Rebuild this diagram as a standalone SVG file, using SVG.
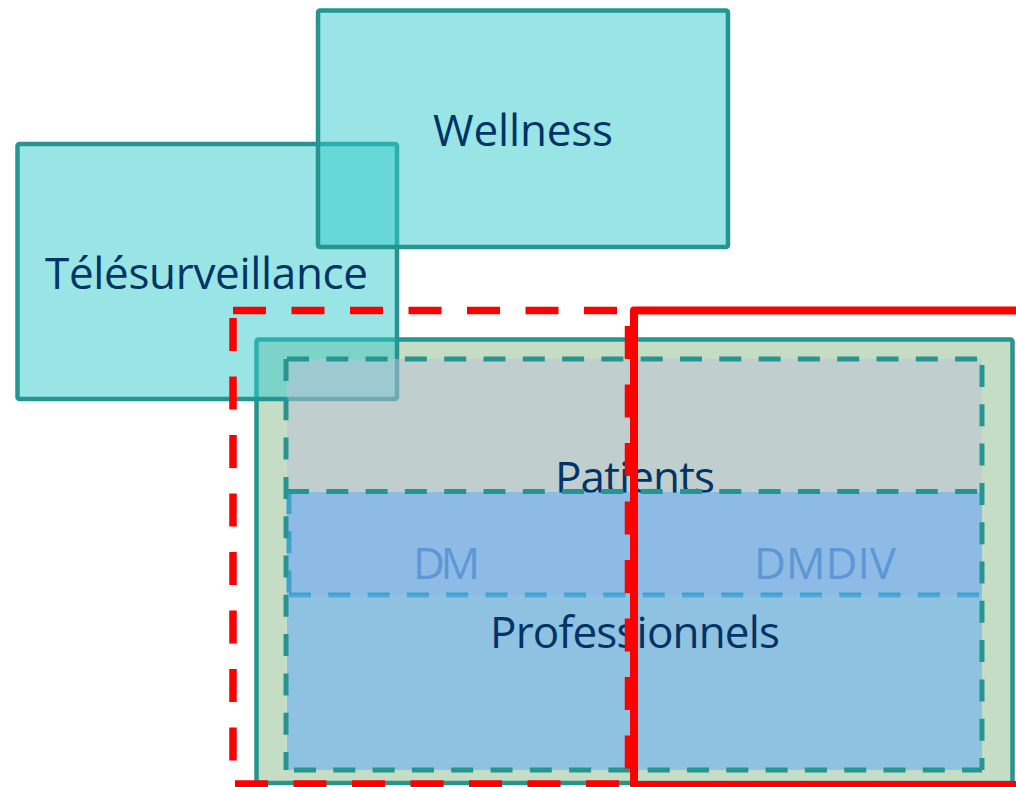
<svg xmlns="http://www.w3.org/2000/svg" width="1016" height="787" viewBox="0 0 1016 787">
<style>
.lbl{font-family:"Open Sans","Noto Sans","Liberation Sans",sans-serif;font-size:44px;text-anchor:middle;fill:#003366}
.dim{fill:#5E97D6}
.box{stroke:#249590;stroke-width:4.5;stroke-linejoin:round}
.cyan{fill:#33CCCC;fill-opacity:0.5}
.tdash{fill:none;stroke:#249590;stroke-width:5;stroke-dasharray:22 17.3}
.bdash{fill:none;stroke:#41A1CB;stroke-width:5;stroke-dasharray:22 17.3}
.rdash{fill:none;stroke:#FF0000;stroke-width:7.5;stroke-dasharray:33 25.5}
.rsolid{fill:none;stroke:#FF0000;stroke-width:8;stroke-linejoin:round}
</style>
<rect width="1016" height="787" fill="#FFFFFF"/>
<g id="container">
<rect class="box" x="256.5" y="339.5" width="756" height="443.5" rx="2" fill="#C4DDC4"/>
</g>
<g id="telesurveillance">
<rect class="box cyan" x="17.5" y="144" width="379.5" height="255" rx="2"/>
<text class="lbl" x="206.5" y="289" textLength="323">Télésurveillance</text>
</g>
<g id="wellness">
<rect class="box cyan" x="318" y="10.5" width="410" height="236.5" rx="2"/>
<text class="lbl" x="523" y="146" textLength="180">Wellness</text>
</g>
<g id="patients">
<rect x="287" y="359" width="695" height="411" fill="#BEBFD8" fill-opacity="0.5"/>
<text class="lbl" x="635" y="493" textLength="160">Patients</text>
</g>
<g id="dm">
<rect x="287" y="492" width="695" height="103" fill="#59A8FC" fill-opacity="0.5"/>
<path class="bdash" d="M289,595 H980 M289,492 V595"/>
<text class="lbl dim" x="446.5" y="578.5" textLength="67">DM</text>
<text class="lbl dim" x="825" y="579" textLength="142">DMDIV</text>
</g>
<g id="professionnels">
<rect x="287" y="595" width="695" height="175" fill="#5DB4F2" fill-opacity="0.5"/>
<text class="lbl" x="635" y="648" textLength="290">Professionnels</text>
</g>
<g id="borders">
<path class="tdash" d="M287,359 H982 M982,365 V770 M294,770 H982 M286,359 V770 M287,491.5 H982"/>
</g>
<g id="connectors">
<path class="rdash" d="M233,310.5 H628 M628.5,326 V784 M235,784 H628 M233,318 V784"/>
<path class="rsolid" d="M1024,310.5 H634 V785 H1024"/>
</g>
</svg>
